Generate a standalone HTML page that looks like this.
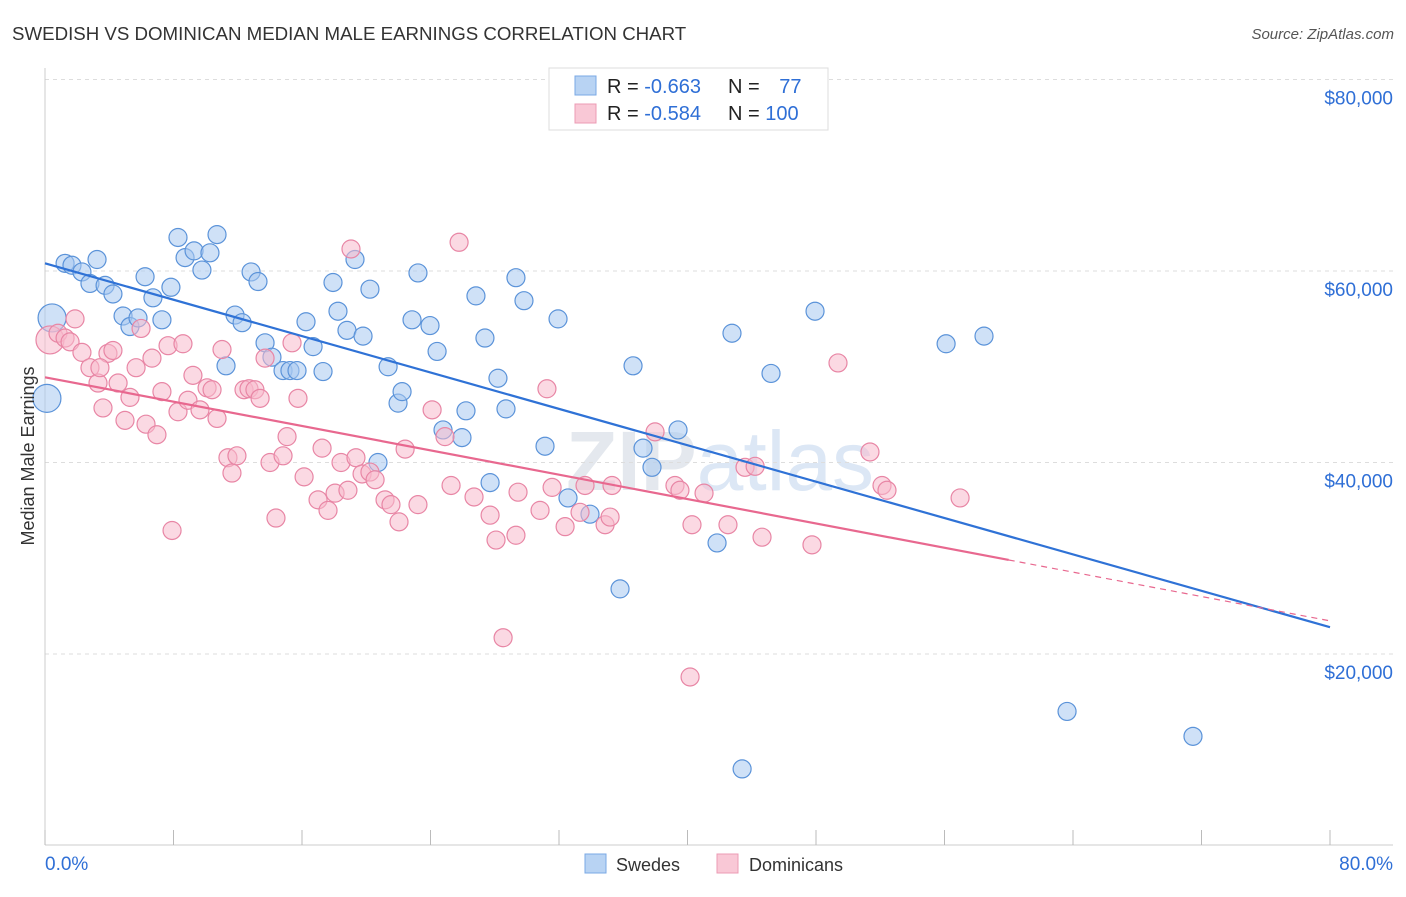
<!DOCTYPE html>
<html><head><meta charset="utf-8"><style>
body{margin:0;background:#fff;font-family:"Liberation Sans",sans-serif;}
svg text{font-family:"Liberation Sans",sans-serif;}
</style></head><body>
<svg id="chart" width="1406" height="892" viewBox="0 0 1406 892">
<text x="12" y="40" font-size="18.7" fill="#333">SWEDISH VS DOMINICAN MEDIAN MALE EARNINGS CORRELATION CHART</text>
<text x="1394" y="39" font-size="15" fill="#555" font-style="italic" text-anchor="end">Source: ZipAtlas.com</text>
<text x="720" y="490" font-size="84" fill="#e4e8ee" text-anchor="middle" font-weight="bold">ZIP<tspan fill="#dce7f5" font-weight="normal">atlas</tspan></text>
<g id="grid"></g>
<g id="axes"></g>
<g id="pts"></g>
<g id="lines"></g>
<text transform="translate(34,456) rotate(-90)" font-size="18" fill="#333" text-anchor="middle">Median Male Earnings</text>
<g>
<rect x="549" y="68" width="279" height="62" fill="#fff" stroke="#ddd"/>
<rect x="575" y="76" width="21" height="19" fill="#b8d3f3" stroke="#7aa8e4"/>
<rect x="575" y="104" width="21" height="19" fill="#f9c8d6" stroke="#ec9bb4"/>
<text x="607" y="93" font-size="20" fill="#222">R = <tspan fill="#2f6fd6">-0.663</tspan></text>
<text x="728" y="93" font-size="20" fill="#222">N = <tspan fill="#2f6fd6" dx="14">77</tspan></text>
<text x="607" y="120" font-size="20" fill="#222">R = <tspan fill="#2f6fd6">-0.584</tspan></text>
<text x="728" y="120" font-size="20" fill="#222">N = <tspan fill="#2f6fd6">100</tspan></text>
</g>
<g>
<rect x="585" y="854" width="21" height="19" fill="#b8d3f3" stroke="#7aa8e4"/>
<text x="616" y="871" font-size="18" fill="#333">Swedes</text>
<rect x="717" y="854" width="21" height="19" fill="#f9c8d6" stroke="#ec9bb4"/>
<text x="749" y="871" font-size="18" fill="#333">Dominicans</text>
</g>
</svg>
<script>
const NS="http://www.w3.org/2000/svg";
const yTicks=[20000,40000,60000,80000];
const yTickLabels=["$20,000","$40,000","$60,000","$80,000"];
const xTicks=[0,8,16,24,32,40,48,56,64,72,80];
const xEndLabels=["0.0%","80.0%"];
const swedesX=[1.25,1.68,2.30,2.80,3.24,3.74,4.23,4.86,5.29,5.79,6.23,6.72,7.28,7.84,8.28,8.72,9.28,9.77,10.27,10.71,11.27,11.83,12.27,12.83,13.26,13.70,14.13,14.82,15.25,15.69,16.25,16.69,17.31,17.93,18.24,18.80,19.30,19.80,20.23,20.73,21.36,21.98,22.23,22.85,23.22,23.97,24.41,24.78,25.96,26.21,26.83,27.39,27.71,28.20,28.70,29.32,29.82,31.13,31.94,32.56,33.93,35.80,36.61,37.23,37.79,39.41,41.84,42.77,43.40,45.20,47.94,56.10,58.46,63.63,71.47,0.44,0.12];
const swedesY=[60.8,60.6,59.9,58.7,61.2,58.5,57.6,55.3,54.2,55.1,59.4,57.2,54.9,58.3,63.5,61.4,62.1,60.1,61.9,63.8,50.1,55.4,54.6,59.9,58.9,52.5,51.0,49.6,49.6,49.6,54.7,52.1,49.5,58.8,55.8,53.8,61.2,53.2,58.1,40.0,50.0,46.2,47.4,54.9,59.8,54.3,51.6,43.4,42.6,45.4,57.4,53.0,37.9,48.8,45.6,59.3,56.9,41.7,55.0,36.3,34.6,26.8,50.1,41.5,39.5,43.4,31.6,53.5,8.0,49.3,55.8,52.4,53.2,14.0,11.4,55.1,46.7];
const swedesBig=[75,76];
const domX=[0.31,0.81,1.25,1.56,1.87,2.30,2.80,3.30,3.61,3.92,4.23,4.55,4.98,5.29,5.67,5.98,6.29,6.66,6.97,7.28,7.66,7.91,8.28,8.59,8.90,9.21,9.65,10.09,10.40,10.71,11.02,11.39,11.64,11.95,12.39,12.70,13.07,13.39,13.70,14.01,14.38,14.82,15.07,15.38,15.75,16.13,17.00,17.25,17.62,18.06,18.43,18.86,19.05,19.36,19.74,20.23,20.55,21.17,21.54,22.04,22.42,23.22,24.10,24.90,25.28,25.78,26.71,27.71,28.08,28.52,29.32,29.45,30.82,31.25,31.57,32.38,33.31,33.62,34.87,35.18,35.30,37.98,39.22,39.53,40.28,41.03,42.52,43.58,44.21,44.64,47.75,49.37,51.36,52.11,52.42,56.97,40.16,3.42];
const domY=[52.8,53.5,53.0,52.6,55.0,51.5,49.9,48.3,45.7,51.4,51.7,48.3,44.4,46.8,49.9,54.0,44.0,50.9,42.9,47.4,52.2,32.9,45.3,52.4,46.5,49.1,45.5,47.8,47.6,44.6,51.8,40.5,38.9,40.7,47.6,47.7,47.6,46.7,50.9,40.0,34.2,40.7,42.7,52.5,46.7,38.5,36.1,41.5,35.0,36.8,40.0,37.1,62.3,40.5,38.8,39.0,38.2,36.1,35.6,33.8,41.4,35.6,45.5,42.7,37.6,63.0,36.4,34.5,31.9,21.7,32.4,36.9,35.0,47.7,37.4,33.3,34.8,37.6,33.5,34.3,37.6,43.2,37.6,37.1,33.5,36.8,33.5,39.5,39.6,32.2,31.4,50.4,41.1,37.6,37.1,36.3,17.6,49.9];
const domBig=[0];
const swedesTrend=[60.8,-0.475];
const domTrend=[48.9,-0.318];
const domSolidEnd=60;

const X0=45,X1=1330,YB=654,PER=191.5/20000;
const sx=v=>X0+(v/80)*(X1-X0);
const sy=v=>YB-(v-20000)*PER;
function mk(tag,attrs,parent){const e=document.createElementNS(NS,tag);for(const k in attrs)e.setAttribute(k,attrs[k]);parent.appendChild(e);return e;}
const grid=document.getElementById('grid'),axes=document.getElementById('axes'),pts=document.getElementById('pts'),lines=document.getElementById('lines');
yTicks.forEach((t,i)=>{
  const l=mk('line',{x1:45,x2:1393,y1:sy(t),y2:sy(t),stroke:'#ddd','stroke-dasharray':'4,4'},grid);
  
  
  const tx=mk('text',{x:1393,y:sy(t)+25,'font-size':19,fill:'#2f6fd6','text-anchor':'end'},axes);
  tx.textContent=yTickLabels[i];
  
  
});
const ax=mk('line',{x1:45,x2:1393,y1:845,y2:845,stroke:'#ccc'},axes);


const ay=mk('line',{x1:45,x2:45,y1:68,y2:845,stroke:'#ccc'},axes);


xTicks.forEach(t=>{
  const l=mk('line',{x1:sx(t),x2:sx(t),y1:830,y2:845,stroke:'#bbb'},axes);
  
  
});
[[0,'start',45],[80,'end',1393]].forEach((a,i)=>{
  const tx=mk('text',{x:a[2],y:870,'font-size':19,fill:'#2f6fd6','text-anchor':a[1]},axes);
  tx.textContent=xEndLabels[i];
  
  
});
function drawPts(X,Y,big,fill,stroke,name){
  X.forEach((x,i)=>{
    const c=mk('circle',{cx:sx(x),cy:sy(Y[i]*1000),r:big.includes(i)?14:9,fill:fill,'fill-opacity':0.55,stroke:stroke,'stroke-width':1.2},pts);
    
    
  });
}
drawPts(swedesX,swedesY,swedesBig,'#a8c8f0','#5b93d9','swedes-point');
drawPts(domX,domY,domBig,'#f7b9cc','#e886a5','dominicans-point');
const bl=mk('line',{x1:sx(0),y1:sy(swedesTrend[0]*1000),x2:sx(80),y2:sy((swedesTrend[0]+80*swedesTrend[1])*1000),stroke:'#2f72d6','stroke-width':2.2},lines);


const pl=mk('line',{x1:sx(0),y1:sy(domTrend[0]*1000),x2:sx(domSolidEnd),y2:sy((domTrend[0]+domSolidEnd*domTrend[1])*1000),stroke:'#e8688f','stroke-width':2.2},lines);


const pd=mk('line',{x1:sx(domSolidEnd),y1:sy((domTrend[0]+domSolidEnd*domTrend[1])*1000),x2:sx(80),y2:sy((domTrend[0]+80*domTrend[1])*1000),stroke:'#e8688f','stroke-width':1.2,'stroke-dasharray':'6,5'},lines);


</script>
</body></html>
